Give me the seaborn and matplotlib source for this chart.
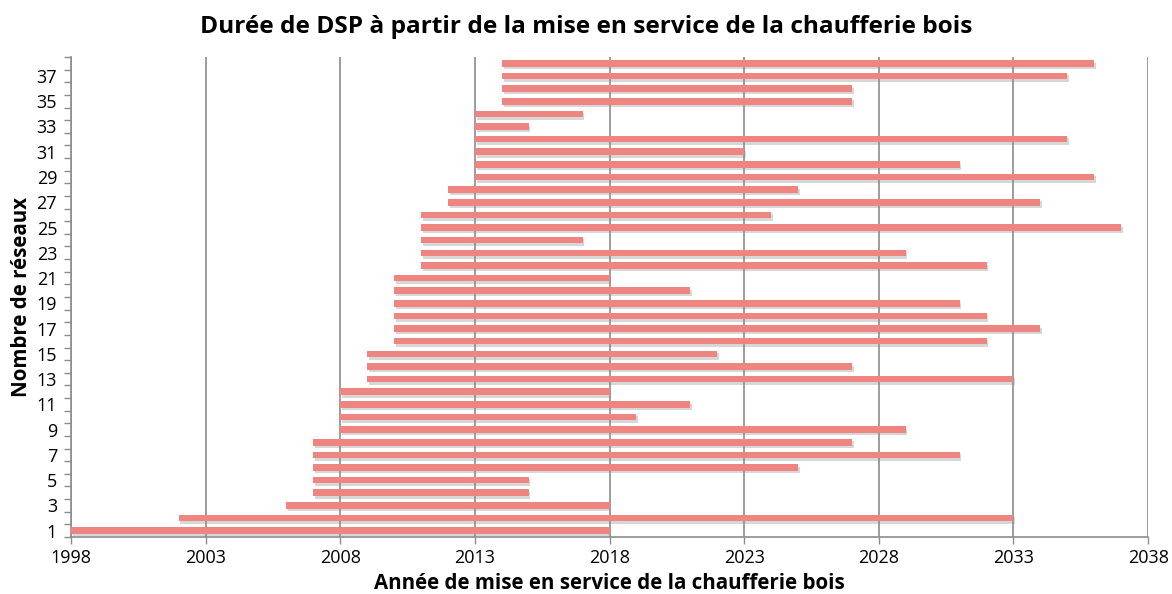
import matplotlib
matplotlib.use("Agg")
import matplotlib.pyplot as plt
import matplotlib.patheffects as pe
from matplotlib.ticker import FixedLocator
import numpy as np
import pandas as pd
import seaborn as sns

# --- data ---
reseaux = list(range(1, 39))
debut = [1998, 2002, 2006, 2007, 2007, 2007, 2007, 2007, 2008, 2008,
         2008, 2008, 2009, 2009, 2009, 2010, 2010, 2010, 2010, 2010,
         2010, 2011, 2011, 2011, 2011, 2011, 2012, 2012, 2013, 2013,
         2013, 2013, 2013, 2013, 2014, 2014, 2014, 2014]
fin = [2018, 2033, 2018, 2015, 2015, 2025, 2031, 2027, 2029, 2019,
       2021, 2018, 2033, 2027, 2022, 2032, 2034, 2032, 2031, 2021,
       2018, 2032, 2029, 2017, 2037, 2024, 2034, 2025, 2036, 2031,
       2023, 2035, 2015, 2017, 2027, 2027, 2035, 2036]
x_ticks = list(range(1998, 2039, 5))
y_labels = list(range(1, 39, 2))

df = pd.DataFrame({"reseau": reseaux, "debut": debut, "fin": fin})
df["duree"] = df["fin"] - df["debut"]

# --- style ---
sns.set_style("white")
plt.rcParams["font.family"] = ["Open Sans", "DejaVu Sans"]
plt.rcParams["text.color"] = "black"
plt.rcParams["axes.labelcolor"] = "black"
plt.rcParams["xtick.color"] = "black"
plt.rcParams["ytick.color"] = "black"
grid_col = "#8c8c8c"

fig = plt.figure(figsize=(11.72, 5.94), dpi=100)
ax = fig.add_axes([0.0606, 0.096, 0.919, 0.808])

# --- floating bars (start -> end) with soft shadow ---
shadow = [pe.withSimplePatchShadow(offset=(1.2, -1.8), shadow_rgbFace="#8f8f8f", alpha=0.35)]
sns.barplot(data=df, x="duree", y="reseau", orient="y", native_scale=True,
            left=df["debut"], width=0.52, color="#ee8581", saturation=1,
            linewidth=0, ax=ax, zorder=3, path_effects=shadow)

ax.set_xlim(1998, 2038)
ax.set_ylim(0.5, 38.5)

# --- axes, ticks, grid ---
ax.xaxis.set_major_locator(FixedLocator(x_ticks))
ax.yaxis.set_major_locator(FixedLocator(y_labels))
ax.yaxis.set_minor_locator(FixedLocator(np.arange(0.5, 39, 1)))
ax.tick_params(axis="x", which="major", length=5, width=1, color=grid_col,
               direction="out", labelsize=13, pad=4, bottom=True)
ax.tick_params(axis="y", which="major", length=0, labelsize=13, pad=10, left=True)
ax.tick_params(axis="y", which="minor", length=5, width=1, color=grid_col,
               direction="out", left=True)
ax.xaxis.grid(True, color=grid_col, linewidth=1.2, zorder=1)
ax.yaxis.grid(False)
ax.set_axisbelow(True)
for side in ["top", "right"]:
    ax.spines[side].set_visible(False)
for side in ["left", "bottom"]:
    ax.spines[side].set_color(grid_col)
    ax.spines[side].set_linewidth(1.2)

ax.set_xlabel("Année de mise en service de la chaufferie bois", fontsize=14.8,
              fontweight="bold", labelpad=4)
ax.set_ylabel("Nombre de réseaux", fontsize=14.8, fontweight="bold", labelpad=3)
fig.suptitle("Durée de DSP à partir de la mise en service de la chaufferie bois",
             fontsize=17.6, fontweight="bold", x=0.5, y=0.975)

fig.savefig("out.png", dpi=100)
